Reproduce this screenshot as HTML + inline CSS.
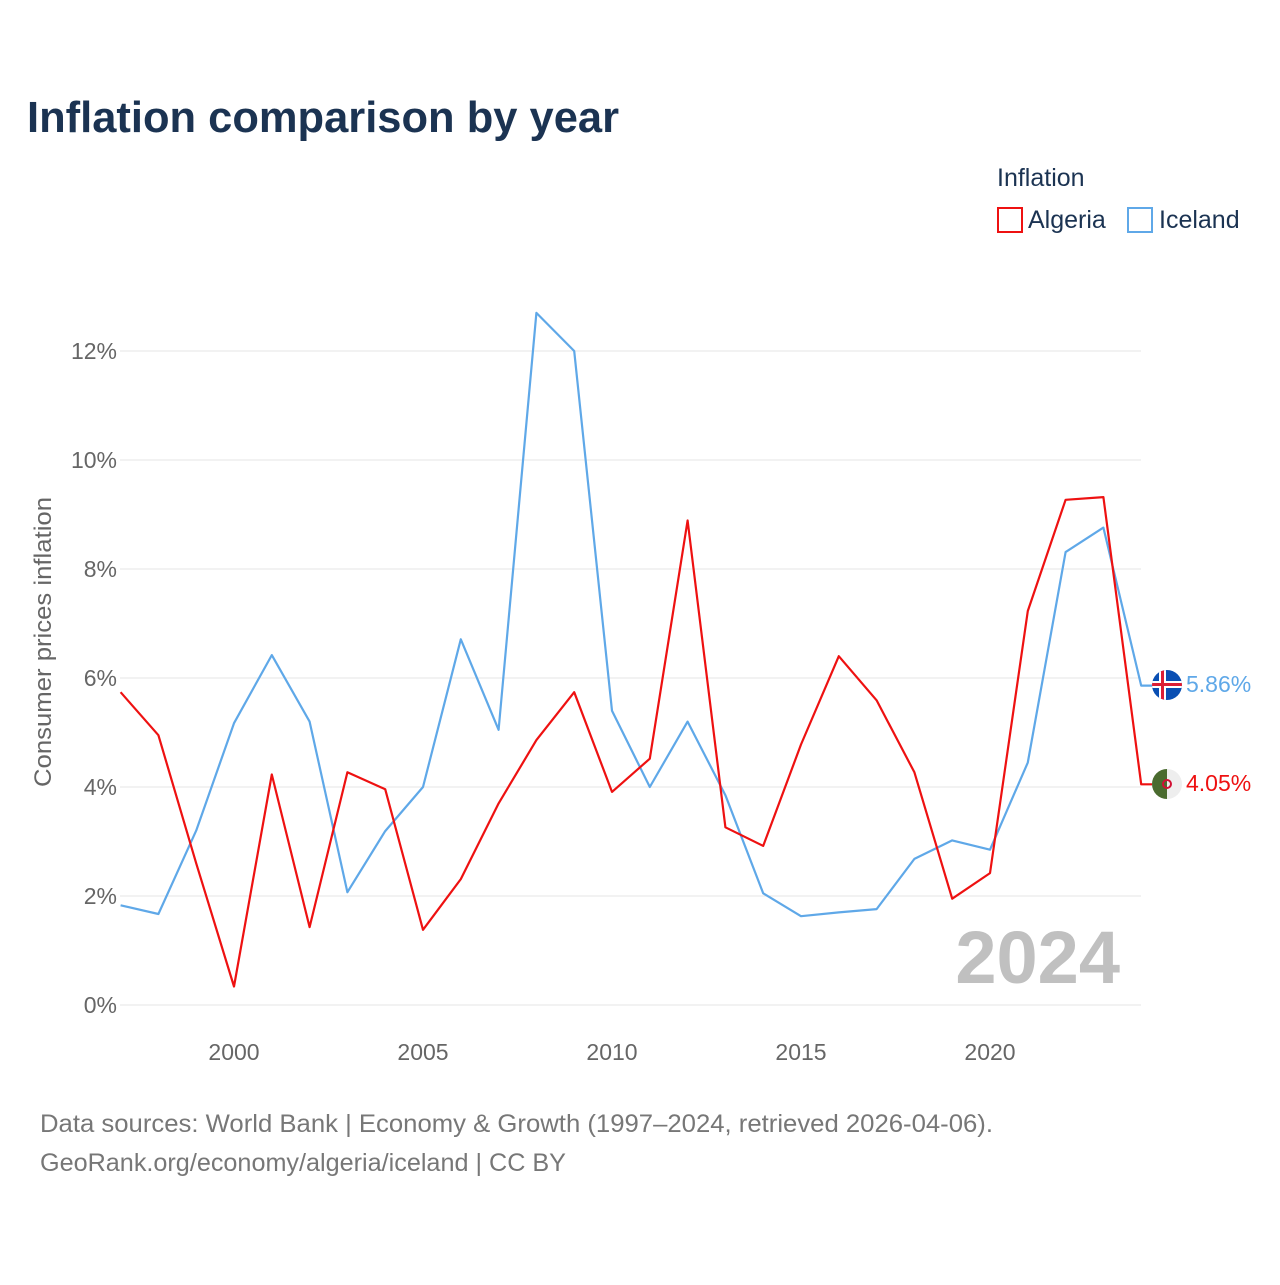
<!DOCTYPE html>
<html><head><meta charset="utf-8"><style>
body{margin:0;background:#fff;font-family:"Liberation Sans",sans-serif}
</style></head><body>
<svg width="1280" height="1280" xmlns="http://www.w3.org/2000/svg" id="chart" font-family="Liberation Sans, sans-serif">
<text x="27" y="132" font-size="44" font-weight="bold" fill="#1b3352" textLength="592" lengthAdjust="spacingAndGlyphs">Inflation comparison by year</text>
<text x="997" y="186" font-size="25" fill="#1b3352">Inflation</text>
<g><rect x="998" y="208" width="24" height="24" fill="none" stroke="#ee1111" stroke-width="2"/><text x="1028" y="228" font-size="25" fill="#1b3352">Algeria</text></g>
<g><rect x="1128" y="208" width="24" height="24" fill="none" stroke="#5fa8e8" stroke-width="2"/><text x="1159" y="228" font-size="25" fill="#1b3352">Iceland</text></g>
<g id="grid"></g><g id="xt"></g><g id="lines"></g>
<text x="1120" y="983" font-size="74" font-weight="bold" fill="#c0c0c0" text-anchor="end">2024</text>
<text transform="translate(51,642) rotate(-90)" font-size="24" fill="#666" text-anchor="middle" textLength="290" lengthAdjust="spacingAndGlyphs">Consumer prices inflation</text>
<g><clipPath id="ci"><circle cx="1167" cy="685" r="15"/></clipPath><g clip-path="url(#ci)"><rect x="1150" y="668" width="34" height="34" fill="#0a4fb3"/><rect x="1159" y="668" width="7" height="34" fill="#fff"/><rect x="1150" y="681" width="34" height="7" fill="#fff"/><rect x="1161" y="668" width="3" height="34" fill="#dc1e35"/><rect x="1150" y="683" width="34" height="3" fill="#dc1e35"/></g></g>
<g><clipPath id="ca"><circle cx="1167" cy="784" r="15"/></clipPath><g clip-path="url(#ca)"><rect x="1150" y="767" width="17" height="34" fill="#4a6b2f"/><rect x="1167" y="767" width="17" height="34" fill="#eee"/><circle cx="1167" cy="784" r="4" fill="none" stroke="#d21034" stroke-width="2"/></g></g>
<text x="1186" y="692" font-size="23" fill="#5fa8e8">5.86%</text>
<text x="1186" y="791" font-size="23" fill="#ee1111">4.05%</text>
<text x="40" y="1132" font-size="25" fill="#777" textLength="953" lengthAdjust="spacingAndGlyphs">Data sources: World Bank | Economy &amp; Growth (1997–2024, retrieved 2026-04-06).</text>
<text x="40" y="1171" font-size="25" fill="#777" textLength="526" lengthAdjust="spacingAndGlyphs">GeoRank.org/economy/algeria/iceland | CC BY</text>
</svg>
<script>
const years=[1997,1998,1999,2000,2001,2002,2003,2004,2005,2006,2007,2008,2009,2010,2011,2012,2013,2014,2015,2016,2017,2018,2019,2020,2021,2022,2023,2024];
const algeria=[5.74,4.95,2.6,0.34,4.23,1.43,4.27,3.96,1.38,2.31,3.7,4.86,5.74,3.91,4.52,8.89,3.26,2.92,4.78,6.4,5.59,4.27,1.95,2.42,7.23,9.27,9.32,4.05];
const iceland=[1.83,1.67,3.2,5.17,6.42,5.2,2.07,3.19,4.0,6.71,5.05,12.7,12.0,5.4,4.0,5.2,3.85,2.05,1.63,1.7,1.76,2.68,3.02,2.85,4.45,8.31,8.76,5.86];
const yTicks=[0,2,4,6,8,10,12];
const xTicks=[2000,2005,2010,2015,2020];
const NS="http://www.w3.org/2000/svg";
const X=y=>120.6+(y-1997)*37.8;
const Y=v=>1005-v*54.5;
function mk(t,a,p){const e=document.createElementNS(NS,t);for(const k in a)e.setAttribute(k,a[k]);p.appendChild(e);return e;}
const grid=document.getElementById('grid');
yTicks.forEach(v=>{
 const l=mk('line',{x1:120,x2:1141,y1:Y(v),y2:Y(v),stroke:'#e6e6e6','stroke-width':1},grid);
 
 
 const t=mk('text',{x:117,y:Y(v)+8,'font-size':23,fill:'#666','text-anchor':'end'},grid);
 t.textContent=v+'%';
 
 
});
const xt=document.getElementById('xt');
xTicks.forEach(v=>{
 const t=mk('text',{x:X(v),y:1060,'font-size':23,fill:'#666','text-anchor':'middle'},xt);
 t.textContent=v;
 
 
});
const lines=document.getElementById('lines');
function series(vals,color,name){
 let d=vals.map((v,i)=>(i?'L':'M')+X(years[i]).toFixed(1)+','+Y(v).toFixed(1)).join(' ');
 d+=' L1152,'+Y(vals[vals.length-1]).toFixed(1);
 const p=mk('path',{d:d,fill:'none',stroke:color,'stroke-width':2.2,'stroke-linejoin':'round'},lines);
 
 
}
series(iceland,'#5fa8e8','iceland-line');
series(algeria,'#ee1111','algeria-line');
</script>
</body></html>
